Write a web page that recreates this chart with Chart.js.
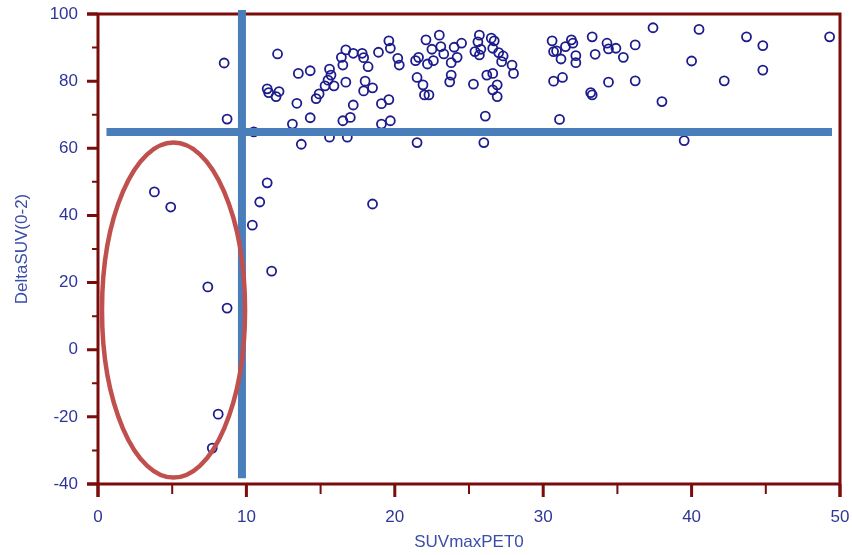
<!DOCTYPE html>
<html>
<head>
<meta charset="utf-8">
<script src="https://cdn.jsdelivr.net/npm/chart.js@4/dist/chart.umd.min.js"></script>
<style>
  html, body { margin: 0; padding: 0; background: #fff; }
  canvas { display: block; }
</style>
</head>
<body>
<canvas id="scatter" width="852" height="555"></canvas>
<script>
// SUVmaxPET0 (x) and DeltaSUV(0-2) (y), one entry per patient
let suvMax = [
  3.8, 4.9, 7.4, 8.7, 8.1, 7.7, 8.5, 8.7,
  11.4, 10.9, 10.4, 11.7, 18.5, 10.5,
  12.1, 13.5, 14.3, 11.4, 11.5, 12.0, 12.2, 13.4, 13.1, 14.3, 13.7, 14.7, 14.9,
  15.6, 15.7, 15.5, 15.3, 15.9, 16.7, 16.4, 16.7, 16.5, 17.2, 17.8, 17.9, 18.2,
  18.0, 17.9, 18.5, 17.2, 17.0, 16.5, 15.6, 16.8, 18.9, 19.1, 19.6, 19.1, 19.7,
  19.6, 19.7, 20.2, 20.3, 21.5, 21.4, 21.6, 22.1, 23.0, 22.5, 23.1, 22.2, 22.6,
  23.3, 24.0, 24.5, 24.2, 23.8, 23.8, 23.7, 21.5, 21.9, 22.0, 22.3,
  25.3, 25.7, 25.6, 25.4, 25.7, 26.5, 26.7, 26.6, 27.0, 27.3, 27.2, 27.9, 28.0,
  26.2, 26.6, 26.9, 26.6, 26.9, 26.1, 26.0, 25.8,
  30.6, 30.7, 30.9, 31.2, 31.5, 31.9, 32.0, 32.2, 32.2, 33.3, 33.5, 34.3, 34.4,
  34.9, 35.4, 36.2, 37.4, 30.7, 31.3, 33.2, 33.3, 34.4, 36.2, 38.0, 31.1,
  39.5, 40.0, 40.5, 42.2, 43.7, 44.8, 44.8, 49.3
];
let deltaSuv = [
  47.0, 42.5, 18.7, 12.4, -19.2, -29.3, 85.4, 68.7,
  49.7, 44.0, 37.1, 23.4, 43.4, 64.9,
  88.1, 82.3, 83.1, 77.7, 76.6, 75.4, 76.9, 73.4, 67.2, 69.1, 61.2, 74.8, 76.2,
  83.6, 81.8, 80.3, 78.6, 78.6, 79.7, 87.1, 89.3, 84.8, 88.3, 88.3, 87.0, 84.3,
  80.0, 77.1, 78.0, 72.9, 69.2, 68.2, 63.3, 63.3, 88.6, 73.3, 74.5, 67.2, 68.2,
  92.0, 89.8, 86.8, 84.8, 61.7, 86.1, 87.1, 92.3, 93.7, 89.5, 90.3, 85.1, 86.1,
  88.1, 90.1, 91.3, 87.1, 85.5, 81.8, 79.8, 81.1, 78.9, 75.9, 75.9,
  79.1, 93.7, 91.7, 88.8, 87.8, 92.8, 92.0, 89.8, 88.5, 87.5, 85.8, 84.8, 82.3,
  81.8, 82.3, 78.9, 77.4, 75.4, 69.6, 61.7, 89.5,
  92.0, 88.8, 89.0, 86.6, 90.3, 92.3, 91.3, 87.6, 85.5, 93.2, 88.0, 91.3, 89.6,
  89.8, 87.1, 90.8, 95.9, 80.0, 81.1, 76.6, 75.9, 79.7, 80.1, 73.9, 68.6,
  62.3, 86.0, 95.4, 80.1, 93.2, 90.6, 83.3, 93.2
];

// axis ticks
let xTickValues = [0, 10, 20, 30, 40, 50];
let xMinorTicks = [5, 15, 25, 35, 45];
let yTickValues = [-40, -20, 0, 20, 40, 60, 80, 100];
let yMinorTicks = [-30, -10, 10, 30, 50, 70, 90];

// hand-drawn marks on the figure (cut-off lines and the ellipse), in data units
let cutoffX = 9.7;            // vertical blue line
let cutoffXSpan = [-38.3, 101.2];
let cutoffY = 64.85;          // horizontal blue line
let cutoffYSpan = [0.57, 49.46];
let ellipseCenter = [5.09, 11.8];
let ellipseRadii = [4.82, 49.9];

let frameColor = '#7a0c0c';
let markBlue = '#4a7ebb';
let markRed = '#c0504d';

let points = suvMax.map((x, i) => ({ x: x, y: deltaSuv[i] }));

// keep the plot box where the figure has it (no extra room for edge labels)
function fixBox(s, w, h) {
  if (w !== null) s.width = w;
  if (h !== null) s.height = h;
  s.paddingTop = 0; s.paddingBottom = 0; s.paddingLeft = 0; s.paddingRight = 0;
}

// frame, axis lines and tick marks (major long, minor short)
const framePlugin = {
  id: 'frame',
  beforeDatasetsDraw(chart) {
    const ctx = chart.ctx;
    const a = chart.chartArea;
    const xs = chart.scales.x, ys = chart.scales.y;
    ctx.save();
    ctx.strokeStyle = frameColor;
    ctx.lineCap = 'butt';
    ctx.lineWidth = 3;
    ctx.beginPath();
    ctx.moveTo(a.left - 11, a.top); ctx.lineTo(a.right + 1.5, a.top);
    ctx.moveTo(a.left, a.top); ctx.lineTo(a.left, a.bottom + 13);
    ctx.moveTo(a.left - 11, a.bottom); ctx.lineTo(a.right + 1.5, a.bottom);
    ctx.moveTo(a.right, a.top); ctx.lineTo(a.right, a.bottom + 13);
    ctx.stroke();

    ctx.beginPath();
    yTickValues.forEach(v => {
      const p = ys.getPixelForValue(v);
      ctx.moveTo(a.left - 11, p); ctx.lineTo(a.left, p);
    });
    xTickValues.forEach(v => {
      const p = xs.getPixelForValue(v);
      ctx.moveTo(p, a.bottom); ctx.lineTo(p, a.bottom + 13);
    });
    ctx.stroke();

    ctx.lineWidth = 2;
    ctx.beginPath();
    yMinorTicks.forEach(v => {
      const p = ys.getPixelForValue(v);
      ctx.moveTo(a.left - 6, p); ctx.lineTo(a.left, p);
    });
    xMinorTicks.forEach(v => {
      const p = xs.getPixelForValue(v);
      ctx.moveTo(p, a.bottom); ctx.lineTo(p, a.bottom + 10);
    });
    ctx.stroke();
    ctx.restore();
  }
};

// blue cut-off lines and red ellipse, drawn over the points
const marksPlugin = {
  id: 'marks',
  afterDatasetsDraw(chart) {
    const ctx = chart.ctx;
    const xs = chart.scales.x, ys = chart.scales.y;
    ctx.save();
    ctx.lineCap = 'butt';
    ctx.strokeStyle = markBlue;
    ctx.lineWidth = 8;
    ctx.beginPath();
    ctx.moveTo(xs.getPixelForValue(cutoffYSpan[0]), ys.getPixelForValue(cutoffY));
    ctx.lineTo(xs.getPixelForValue(cutoffYSpan[1]), ys.getPixelForValue(cutoffY));
    ctx.stroke();
    ctx.beginPath();
    ctx.moveTo(xs.getPixelForValue(cutoffX), ys.getPixelForValue(cutoffXSpan[1]));
    ctx.lineTo(xs.getPixelForValue(cutoffX), ys.getPixelForValue(cutoffXSpan[0]));
    ctx.stroke();

    const cx = xs.getPixelForValue(ellipseCenter[0]);
    const cy = ys.getPixelForValue(ellipseCenter[1]);
    const rx = xs.getPixelForValue(ellipseCenter[0] + ellipseRadii[0]) - cx;
    const ry = cy - ys.getPixelForValue(ellipseCenter[1] + ellipseRadii[1]);
    ctx.strokeStyle = markRed;
    ctx.lineWidth = 4.5;
    ctx.beginPath();
    ctx.ellipse(cx, cy, rx, ry, 0, 0, Math.PI * 2);
    ctx.stroke();
    ctx.restore();
  }
};

new Chart(document.getElementById('scatter'), {
  type: 'scatter',
  data: {
    datasets: [{
      label: 'DeltaSUV(0-2)',
      data: points,
      pointStyle: 'circle',
      pointRadius: 4.5,
      pointHoverRadius: 4.5,
      borderWidth: 1.8,
      borderColor: '#1c1c8c',
      backgroundColor: 'rgba(0,0,0,0)',
      clip: false
    }]
  },
  options: {
    responsive: false,
    devicePixelRatio: 1,
    animation: false,
    events: [],
    layout: { padding: { top: 14, right: 12, left: 0, bottom: 0 } },
    plugins: { legend: { display: false }, tooltip: { enabled: false } },
    scales: {
      x: {
        type: 'linear',
        min: 0, max: 50,
        afterBuildTicks: s => { s.ticks = xTickValues.map(v => ({ value: v })); },
        afterFit: s => fixBox(s, null, 71),
        grid: { display: false, drawTicks: false },
        border: { display: false },
        ticks: {
          padding: 23,
          color: '#2f3599',
          font: { family: "'Liberation Sans', Arial, sans-serif", size: 17 },
          maxRotation: 0
        },
        title: {
          display: true,
          text: 'SUVmaxPET0',
          color: '#3a4ea8',
          font: { family: "'Liberation Sans', Arial, sans-serif", size: 17 },
          padding: { top: 0, bottom: 2 }
        }
      },
      y: {
        type: 'linear',
        min: -40, max: 100,
        afterBuildTicks: s => { s.ticks = yTickValues.map(v => ({ value: v })); },
        afterFit: s => fixBox(s, 98, null),
        grid: { display: false, drawTicks: false },
        border: { display: false },
        ticks: {
          padding: 20,
          color: '#2f3599',
          font: { family: "'Liberation Sans', Arial, sans-serif", size: 17 }
        },
        title: {
          display: true,
          text: 'DeltaSUV(0-2)',
          color: '#3a4ea8',
          font: { family: "'Liberation Sans', Arial, sans-serif", size: 17 },
          padding: { top: 12, bottom: 0 }
        }
      }
    }
  },
  plugins: [framePlugin, marksPlugin]
});
</script>
</body>
</html>
